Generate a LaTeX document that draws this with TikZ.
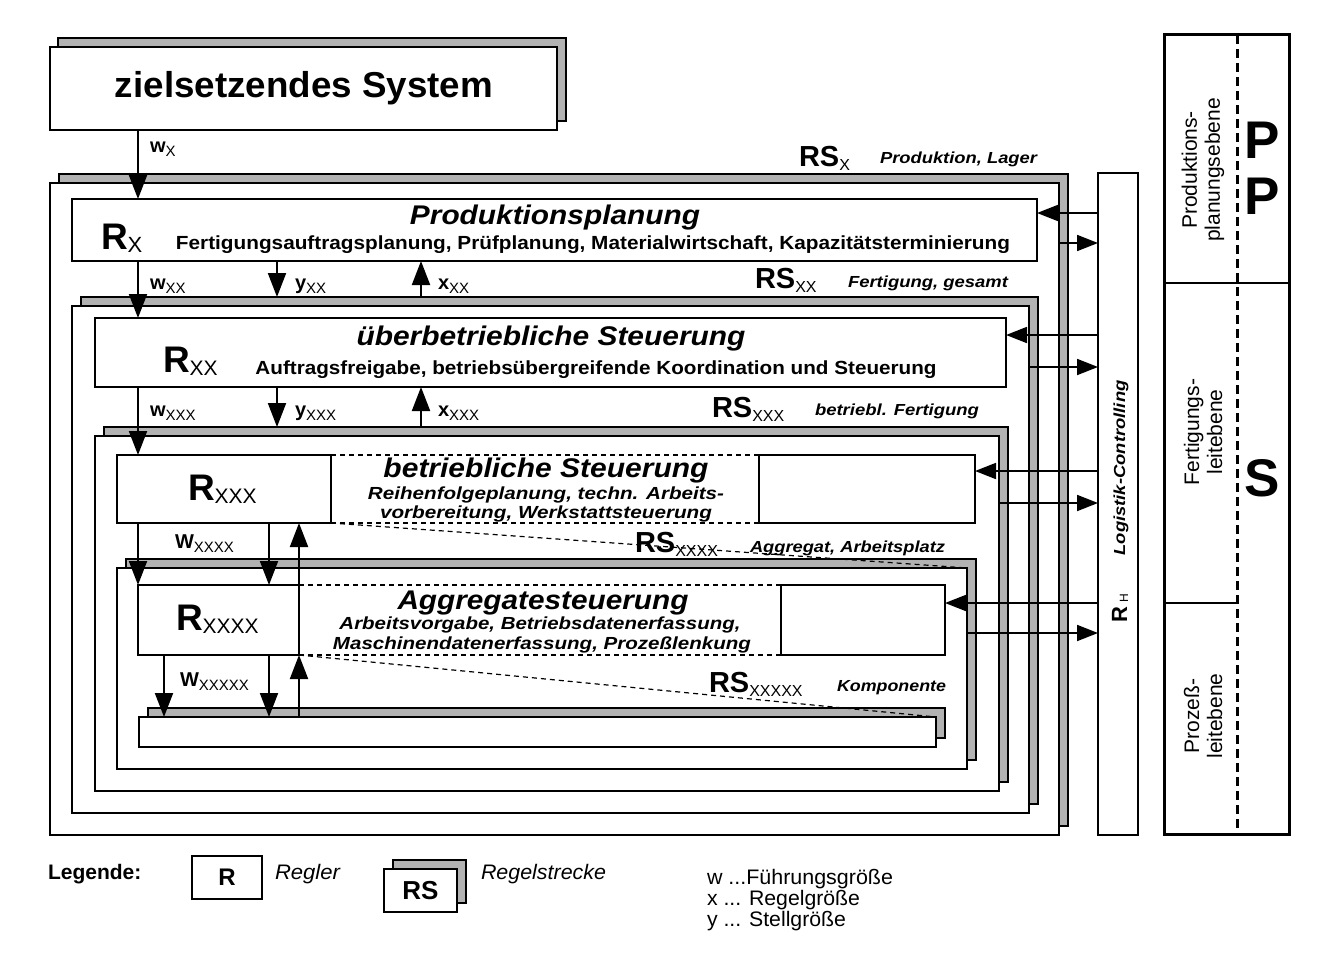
\documentclass[tikz,border=0pt]{standalone}
\usepackage{fontspec}
\setmainfont{Liberation Sans}
\usepackage{graphicx}
\usetikzlibrary{arrows.meta}
\definecolor{shd}{gray}{0.70}
\newcommand\fsz[1]{\fontsize{#1}{#1}\selectfont}
\newcommand\sbx[3][3pt]{\raisebox{-#1}{\fontsize{#2}{#2}\selectfont\mdseries #3}}
\newcommand\fitw[2]{\resizebox{#1}{\height}{#2}}
\newcommand\bxn[6]{\node[#1, minimum width={(#4-#2)*1pt}, minimum height={(#5-#3)*1pt}, anchor=north west] (#6) at (#2,#3) {};}
\begin{document}
\begin{tikzpicture}[x=1pt,y=-1pt,
  bx/.style={draw, line width=1.2pt, fill=white, inner sep=0pt, outer sep=0pt},
  sh/.style={draw, line width=1.2pt, fill=shd, inner sep=0pt, outer sep=0pt},
  arr/.style={line width=2pt, -{Triangle[length=24pt,width=18pt]}},
  arrs/.style={line width=1.8pt, -{Triangle[length=21pt,width=16pt]}},
  dsh/.style={line width=1.2pt, dash pattern=on 5pt off 4pt},
  lbl/.style={inner sep=0pt, outer sep=0pt, anchor=base west},
  ctr/.style={inner sep=0pt, outer sep=0pt, anchor=base},
  hd/.style={font=\fsz{27}\bfseries\itshape},
  sd/.style={font=\fsz{19}\bfseries},
  si/.style={font=\fsz{17.5}\bfseries\itshape},
  rsd/.style={font=\fsz{16}\bfseries\itshape},
  rl/.style={font=\fsz{37}\bfseries},
  rsl/.style={font=\fsz{29}\bfseries},
  wl/.style={font=\fsz{20}\bfseries},
  lg/.style={font=\fsz{21}}
]
\useasboundingbox (0,0) rectangle (1337,966);
\fill[white] (0,0) rectangle (1337,966);

% zielsetzendes System
\bxn{sh}{58}{38}{566}{121}{zsS}
\bxn{bx}{50}{47}{557}{130}{zs}
\node[ctr] (tzs) at (304,97) {\fsz{36}\bfseries\fitw{378pt}{zielsetzendes System}};

% RS_x
\bxn{sh}{59}{174}{1068}{826}{rsxS}
\bxn{bx}{50}{183}{1059}{835}{rsx}
\bxn{bx}{72}{199}{1037}{261}{rx}
% RS_xx
\bxn{sh}{81}{297}{1038}{804}{rsxxS}
\bxn{bx}{72}{306}{1029}{813}{rsxx}
\bxn{bx}{95}{318}{1006}{387}{rxx}
% RS_xxx
\bxn{sh}{104}{427}{1008}{782}{rsxxxS}
\bxn{bx}{95}{436}{999}{791}{rsxxx}
\bxn{bx}{117}{455}{331}{523}{rxxx}
\bxn{bx}{759}{455}{975}{523}{rxxxR}
% RS_xxxx
\bxn{sh}{126}{559}{976}{760}{rsxxxxS}
\bxn{bx}{117}{568}{967}{769}{rsxxxx}
\bxn{bx}{138}{585}{299}{655}{rxxxx}
\bxn{bx}{781}{585}{945}{655}{rxxxxR}
% RS_xxxxx
\bxn{sh}{148}{708}{945}{738}{rsxxxxxS}
\bxn{bx}{139}{717}{936}{747}{rsxxxxx}

% dashed perspective lines
\draw[dsh] (rxxx.north east) -- (rxxxR.north west);
\draw[dsh] (rxxx.south east) -- (rxxxR.south west);
\draw[dsh] (rxxx.south east) -- (rsxxxx.north east);
\draw[dsh] (rxxxx.north east) -- (rxxxxR.north west);
\draw[dsh] (rxxxx.south east) -- (rxxxxR.south west);
\draw[dsh] (rxxxx.south east) -- (rsxxxxx.north east);

% Logistik-Controlling
\bxn{bx}{1098}{173}{1138}{835}{lc}

% columns and rows
\coordinate (c1) at (138,0);
\coordinate (c2) at (277,0);
\coordinate (c3) at (421,0);
\coordinate (c4) at (269,0);
\coordinate (c5) at (299,0);
\coordinate (c6) at (164,0);
\coordinate (r1) at (0,213);
\coordinate (r2) at (0,243);
\coordinate (r3) at (0,335);
\coordinate (r4) at (0,367);
\coordinate (r5) at (0,471);
\coordinate (r6) at (0,503);
\coordinate (r7) at (0,603);
\coordinate (r8) at (0,633);

% vertical arrows
\draw[arr] (zs.south -| c1) -- (rx.north -| c1);
\draw[arr] (rx.south -| c1) -- (rxx.north -| c1);
\draw[arr] (rx.south -| c2) -- (rsxxS.north -| c2);
\draw[arr] (rsxxS.north -| c3) -- (rx.south -| c3);
\draw[arr] (rxx.south -| c1) -- (rxxx.north -| c1);
\draw[arr] (rxx.south -| c2) -- (rsxxxS.north -| c2);
\draw[arr] (rsxxxS.north -| c3) -- (rxx.south -| c3);
\draw[arr] (rxxx.south -| c1) -- (rxxxx.north -| c1);
\draw[arr] (rxxx.south -| c4) -- (rxxxx.north -| c4);
\draw[arr] (rxxxx.north -| c5) -- (rxxx.south -| c5);
\draw[arr] (rxxxx.south -| c6) -- (rsxxxxx.north -| c6);
\draw[arr] (rxxxx.south -| c4) -- (rsxxxxx.north -| c4);
\draw[arr] (rsxxxxx.north -| c5) -- (rxxxx.south -| c5);

% horizontal arrows to/from Logistik-Controlling
\draw[arrs] (lc.west |- r1) -- (rx.east |- r1);
\draw[arrs] (rsx.east |- r2) -- (lc.west |- r2);
\draw[arrs] (lc.west |- r3) -- (rxx.east |- r3);
\draw[arrs] (rsxx.east |- r4) -- (lc.west |- r4);
\draw[arrs] (lc.west |- r5) -- (rxxxR.east |- r5);
\draw[arrs] (rsxxx.east |- r6) -- (lc.west |- r6);
\draw[arrs] (lc.west |- r7) -- (rxxxxR.east |- r7);
\draw[arrs] (rsxxxx.east |- r8) -- (lc.west |- r8);

% R labels
\node[lbl, rl] (trx) at (101,249) {R\sbx[3pt]{22}{X}};
\node[lbl, rl] (trxx) at (163,372) {R\sbx[3pt]{21}{XX}};
\node[lbl, rl] (trxxx) at (188,500) {R\sbx[3pt]{21}{XXX}};
\node[lbl, rl] (trxxxx) at (176,630) {R\sbx[3pt]{21}{XXXX}};

% headings
\node[ctr, hd] (h1) at (555,224) {\fitw{290pt}{Produktionsplanung}};
\node[ctr, sd] (d1) at (593,249) {\fitw{834pt}{Fertigungsauftragsplanung, Prüfplanung, Materialwirtschaft, Kapazitätsterminierung}};
\node[ctr, hd] (h2) at (551,345) {\fitw{389pt}{überbetriebliche Steuerung}};
\node[ctr, sd] (d2) at (596,374) {\fitw{681pt}{Auftragsfreigabe, betriebsübergreifende Koordination und Steuerung}};
\node[ctr, hd] (h3) at (546,477) {\fitw{325pt}{betriebliche Steuerung}};
\node[ctr, si] (d3a) at (546,499) {\fitw{356pt}{Reihenfolgeplanung, techn. Arbeits-}};
\node[ctr, si] (d3b) at (546,518) {\fitw{332pt}{vorbereitung, Werkstattsteuerung}};
\node[ctr, hd] (h4) at (543,609) {\fitw{291pt}{Aggregatesteuerung}};
\node[ctr, si] (d4a) at (540,629) {\fitw{401pt}{Arbeitsvorgabe, Betriebsdatenerfassung,}};
\node[ctr, si] (d4b) at (542,649) {\fitw{418pt}{Maschinendatenerfassung, Prozeßlenkung}};

% RS labels
\node[lbl, rsl] (trs1) at (799,166) {RS\sbx[4pt]{16}{X}};
\node[lbl, rsl] (trs2) at (755,288) {RS\sbx[4pt]{16}{XX}};
\node[lbl, rsl] (trs3) at (712,417) {RS\sbx[4pt]{16}{XXX}};
\node[lbl, rsl] (trs4) at (635,552) {RS\sbx[4pt]{16}{XXXX}};
\node[lbl, rsl] (trs5) at (709,692) {RS\sbx[4pt]{16}{XXXXX}};
\node[lbl, rsd] (tds1) at (880,163) {\fitw{157pt}{Produktion, Lager}};
\node[lbl, rsd] (tds2) at (848,287) {\fitw{160pt}{Fertigung, gesamt}};
\node[lbl, rsd] (tds3) at (815,415) {\fitw{164pt}{betriebl. Fertigung}};
\node[lbl, rsd] (tds4) at (750,552) {\fitw{195pt}{Aggregat, Arbeitsplatz}};
\node[lbl, rsd] (tds5) at (837,691) {\fitw{109pt}{Komponente}};

% signal labels
\node[lbl, wl] (lw1) at (150,152) {w\sbx[4pt]{15}{X}};
\node[lbl, wl] (lw2) at (150,289) {w\sbx[4pt]{15}{XX}};
\node[lbl, wl] (ly2) at (295,289) {y\sbx[4pt]{15}{XX}};
\node[lbl, wl] (lx2) at (438,289) {x\sbx[4pt]{15}{XX}};
\node[lbl, wl] (lw3) at (150,416) {w\sbx[4pt]{15}{XXX}};
\node[lbl, wl] (ly3) at (295,416) {y\sbx[4pt]{15}{XXX}};
\node[lbl, wl] (lx3) at (438,416) {x\sbx[4pt]{15}{XXX}};
\node[lbl, wl] (lw4) at (175,548) {W\sbx[4pt]{15}{XXXX}};
\node[lbl, wl] (lw5) at (180,686) {W\sbx[4pt]{15}{XXXXX}};

% Logistik text
\node[rotate=90, inner sep=0pt] (tlc) at (1121,468) {\fsz{16}\bfseries\itshape\fitw{175pt}{Logistik-Controlling}};
\node[rotate=90, anchor=base west, inner sep=0pt] (trh) at (1127,623) {\fsz{22}\bfseries R\kern4pt\sbx[1pt]{12}{H}};

% right panel
\bxn{bx, line width=3pt, fill=none}{1164}{35}{1289}{834}{pan}
\coordinate (pd) at (1237,0);
\coordinate (h1y) at (0,283);
\coordinate (h2y) at (0,603);
\draw[line width=2.5pt] (pan.west |- h1y) -- (pan.east |- h1y);
\draw[line width=2.5pt] (pan.west |- h2y) -- (pd |- h2y);
\draw[line width=3pt, dash pattern=on 9pt off 5pt] (pan.north -| pd) -- (pan.south -| pd);
\node[rotate=90, align=center, inner sep=0pt, font={\fontsize{21}{23}\selectfont}] (tpp) at (1203,170) {Produktions-\\planungsebene};
\node[rotate=90, align=center, inner sep=0pt, font={\fontsize{21}{23}\selectfont}] (tfl) at (1203,432) {Fertigungs-\\leitebene};
\node[rotate=90, align=center, inner sep=0pt, font={\fontsize{21}{23}\selectfont}] (tpl) at (1203,716) {Prozeß-\\leitebene};
\node[ctr, font=\fsz{53}\bfseries] (pp1) at (1262,158) {P};
\node[ctr, font=\fsz{53}\bfseries] (pp2) at (1262,214) {P};
\node[ctr, font=\fsz{53}\bfseries] (ss) at (1262,496) {S};

% legend
\node[lbl, font=\fsz{21}\bfseries] (tleg) at (48,879) {Legende:};
\bxn{bx}{192}{856}{262}{899}{legR}
\node[inner sep=0pt, font=\fsz{24}\bfseries] at (legR.center) {R};
\node[lbl, font=\fsz{21}\itshape] (treg) at (275,879) {\fitw{65pt}{Regler}};
\bxn{sh}{393}{860}{466}{903}{legRSS}
\bxn{bx}{384}{869}{457}{912}{legRS}
\node[inner sep=0pt, font=\fsz{26}\bfseries] at (legRS.center) {RS};
\node[lbl, font=\fsz{21}\itshape] (trst) at (481,879) {\fitw{125pt}{Regelstrecke}};
\node[lbl, lg] (tw) at (707,884) {\fitw{186pt}{w ...Führungsgröße}};
\node[lbl, lg] (tx) at (707,905) {\fitw{153pt}{x ... Regelgröße}};
\node[lbl, lg] (ty) at (707,926) {\fitw{139pt}{y ... Stellgröße}};
\end{tikzpicture}
\end{document}
